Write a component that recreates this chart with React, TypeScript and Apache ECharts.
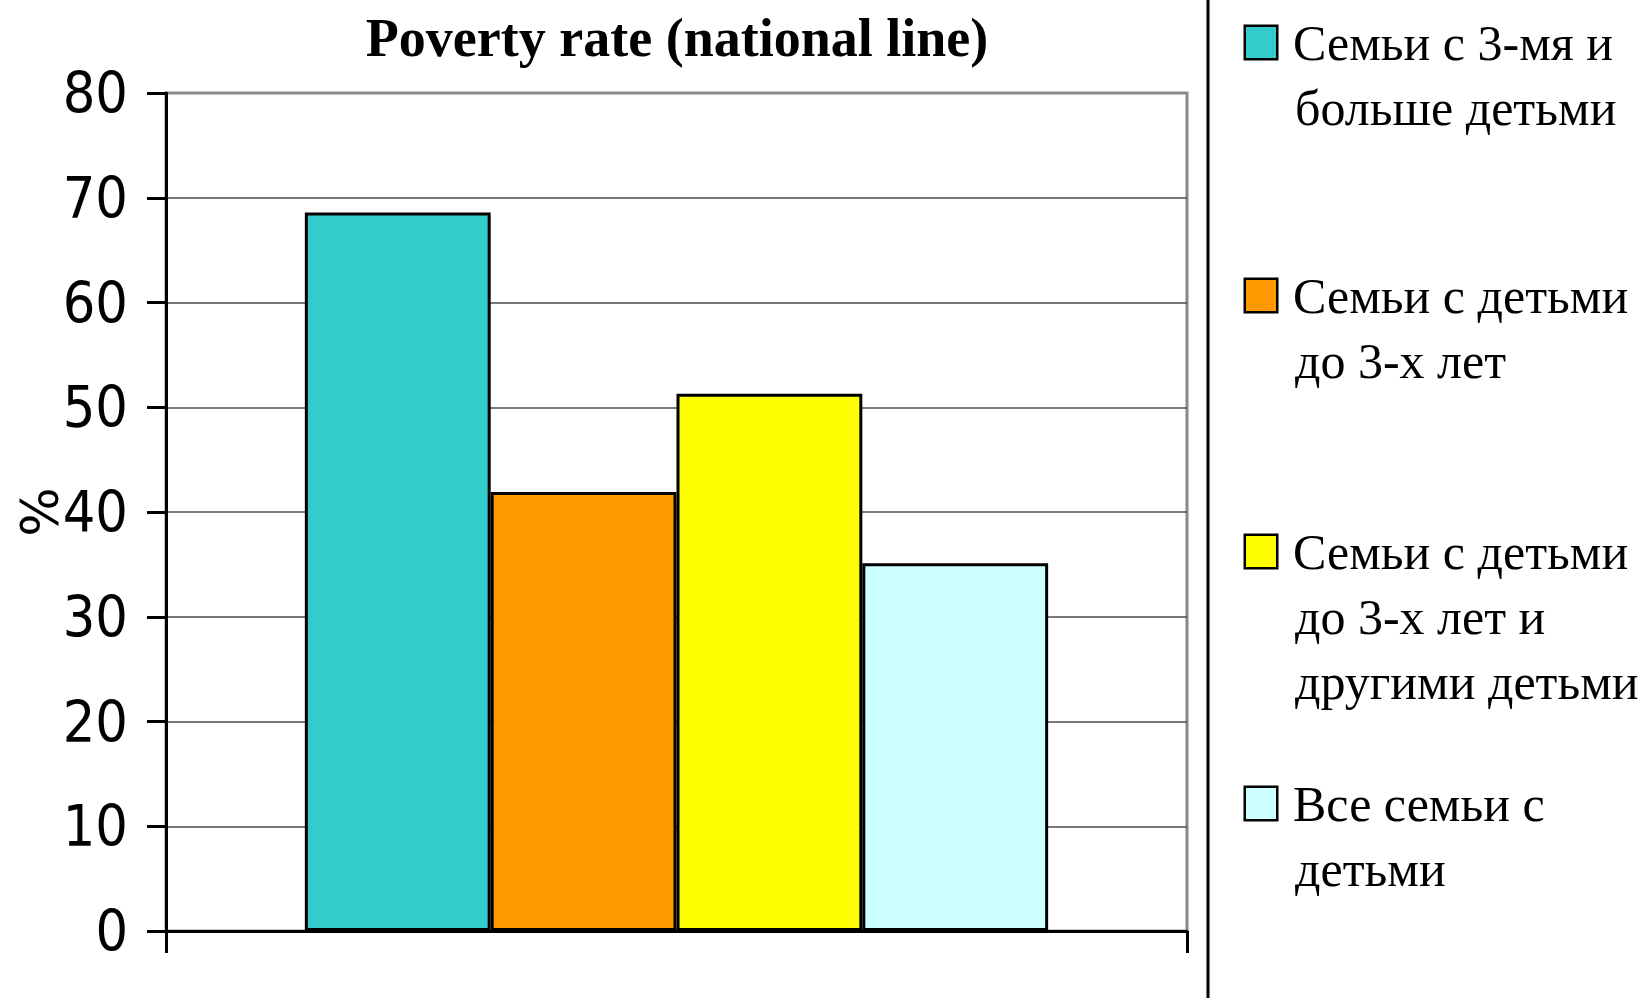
import React, { useEffect, useRef } from "react";
import * as echarts from "echarts";

const categories = [""];
const seriesNames = [
  "Семьи с 3-мя и больше детьми",
  "Семьи с детьми до 3-х лет",
  "Семьи с детьми до 3-х лет и другими детьми",
  "Все семьи с детьми",
];
const legendLines = [
  ["Семьи с 3-мя и", "больше детьми"],
  ["Семьи с детьми", "до 3-х лет"],
  ["Семьи с детьми", "до 3-х лет и", "другими детьми"],
  ["Все семьи с", "детьми"],
];
const values = [68.6, 41.9, 51.3, 35.1];
const colors = ["#33CCCC", "#FF9900", "#FFFF00", "#CCFFFF"];
const yTicks = [0, 10, 20, 30, 40, 50, 60, 70, 80];
const titleText = "Poverty rate (national line)";
const yName = "%";

const legendTops = [10, 263, 519, 771];

export default function App() {
  const ref = useRef<HTMLDivElement>(null);
  useEffect(() => {
    if (!ref.current) return;
    const chart = echarts.init(ref.current, undefined, { renderer: "svg" });
    const sans = "DejaVu Sans";
    const cond = "'DejaVu Sans Condensed', 'DejaVu Sans'";
    const serif = "Liberation Serif";
    const legends = seriesNames.map((name, i) => ({
      orient: "vertical",
      left: 1240,
      top: legendTops[i],
      padding: 0,
      itemWidth: 0,
      itemHeight: 0,
      selectedMode: false,
      data: [name],
      formatter: () =>
        legendLines[i]
          .map((l, j) => (j === 0 ? `{box|}{sp|}{t|${l}}` : `{ind|}{t|${l}}`))
          .join("\n"),
      textStyle: {
        fontFamily: serif,
        fontSize: 50,
        color: "#000",
        lineHeight: 65,
        rich: {
          box: {
            width: 30,
            height: 31,
            backgroundColor: colors[i],
            borderColor: "#000",
            borderWidth: 2.5,
            lineHeight: 65,
          },
          sp: { width: 17, lineHeight: 65 },
          ind: { width: 49, lineHeight: 65 },
          t: { fontFamily: serif, fontSize: 50, color: "#000", lineHeight: 65 },
        },
      },
    }));
    chart.setOption({
      animation: false,
      backgroundColor: "#fff",
      title: {
        text: titleText,
        left: 677,
        top: 11,
        padding: 0,
        textAlign: "center",
        textStyle: { fontFamily: serif, fontWeight: "bold", fontSize: 54, color: "#000" },
      },
      legend: legends,
      grid: {
        left: 166,
        right: 463,
        top: 93,
        bottom: 67,
        containLabel: false,
        outerBoundsMode: "none",
        show: true,
        borderColor: "#8a8a8a",
        borderWidth: 3,
        backgroundColor: "transparent",
      },
      xAxis: {
        type: "category",
        data: categories,
        axisLine: { show: true, lineStyle: { color: "#000", width: 3 } },
        axisTick: { show: true, length: 22, lineStyle: { color: "#000", width: 3 } },
        axisLabel: { show: false },
        splitLine: { show: false },
      },
      yAxis: {
        type: "value",
        min: yTicks[0],
        max: yTicks[yTicks.length - 1],
        interval: 10,
        name: yName,
        nameLocation: "middle",
        nameRotate: 90,
        nameGap: 100,
        nameMoveOverlap: false,
        nameTextStyle: { fontFamily: sans, fontSize: 52, color: "#000" },
        axisLine: { show: true, lineStyle: { color: "#000", width: 3 } },
        axisTick: { show: true, length: 19, lineStyle: { color: "#000", width: 3 } },
        axisLabel: { fontFamily: cond, fontSize: 57, color: "#000", margin: 38 },
        splitLine: { show: true, showMaxLine: false, lineStyle: { color: "#4d4d4d", width: 1.5 } },
      },
      series: seriesNames.map((name, i) => ({
        name,
        type: "bar",
        data: [values[i]],
        barGap: "0%",
        barCategoryGap: "27.2%",
        itemStyle: { color: colors[i], borderColor: "#000", borderWidth: 3 },
      })),
      graphic: [
        {
          type: "line",
          shape: { x1: 1208, y1: 0, x2: 1208, y2: 998 },
          style: { stroke: "#000", lineWidth: 3 },
        },
      ],
    });
    return () => chart.dispose();
  }, []);
  return (
    <div
      ref={ref}
      style={{ position: "absolute", left: 0, top: 0, width: 1650, height: 998 }}
    />
  );
}
